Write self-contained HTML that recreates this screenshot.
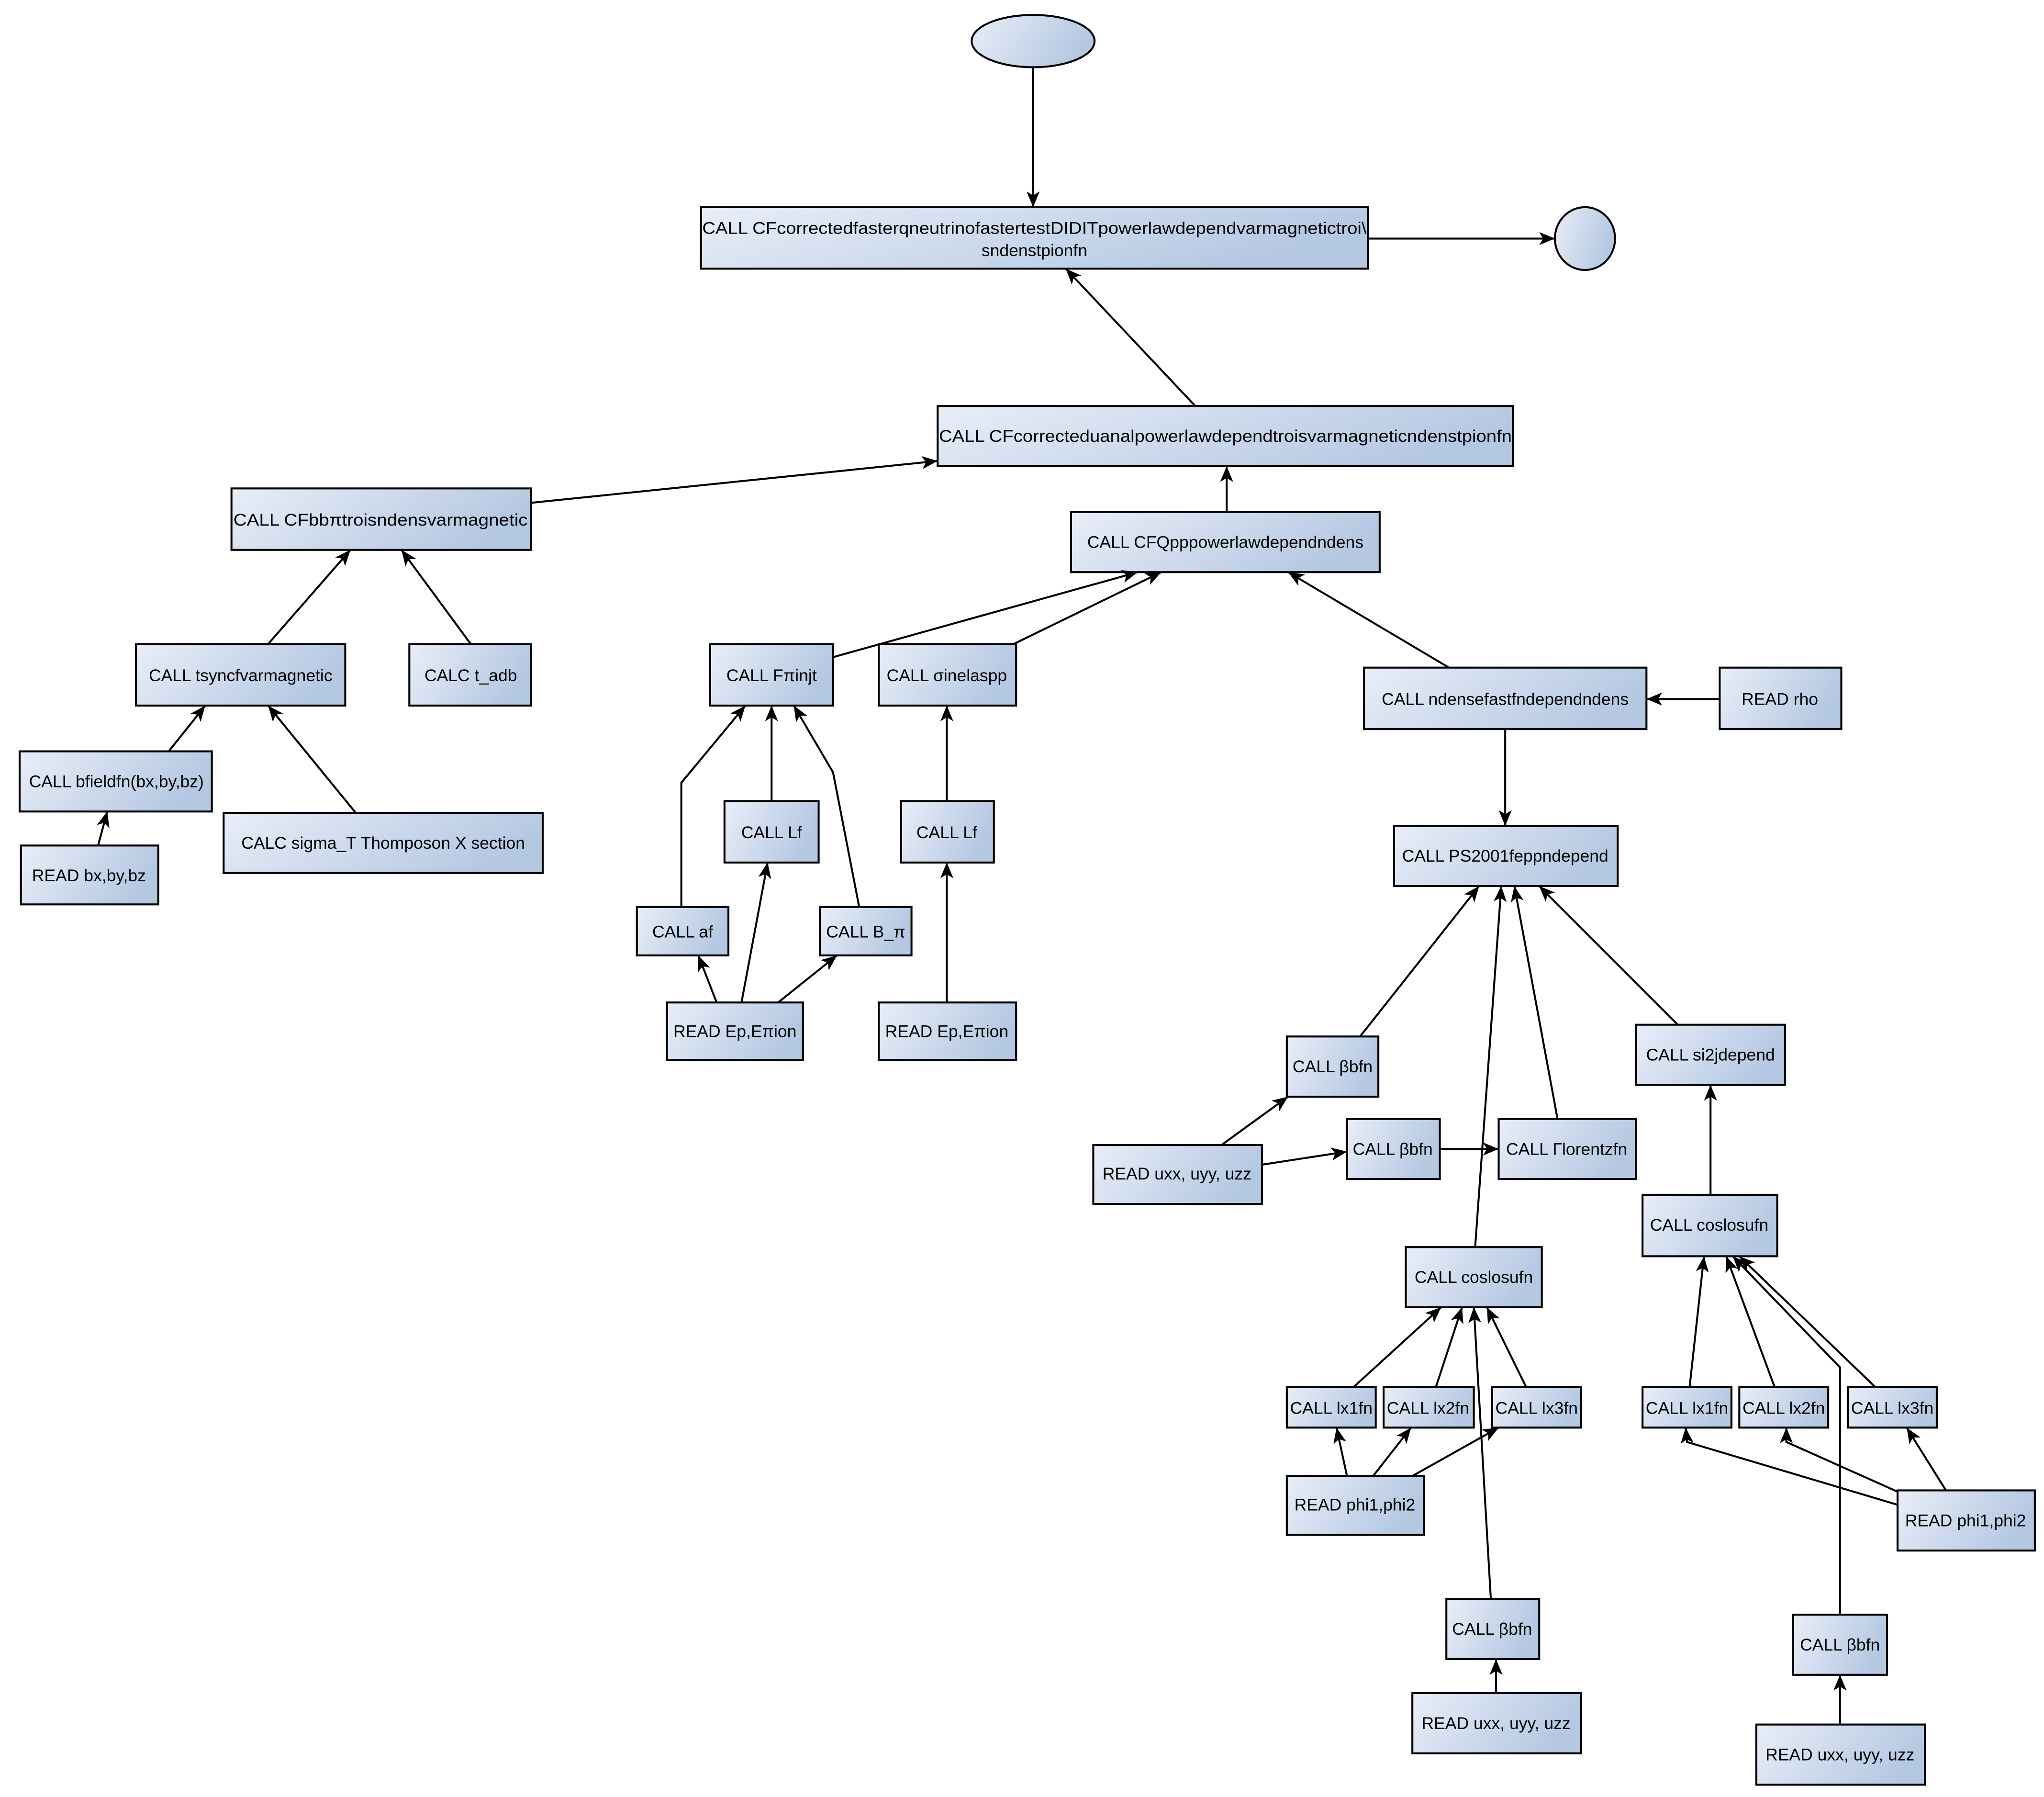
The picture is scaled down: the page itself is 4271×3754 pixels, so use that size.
<!DOCTYPE html>
<html><head><meta charset="utf-8"><style>html,body{margin:0;padding:0;background:#fff}svg{display:block}</style></head>
<body>
<svg xmlns="http://www.w3.org/2000/svg" width="4271" height="3754" viewBox="0 0 1563 1373">
<defs>
<linearGradient id="g" x1="0" y1="0" x2="1" y2="0.3"><stop offset="0" stop-color="#e9eef8"/><stop offset="1" stop-color="#b5c8e2"/></linearGradient>
<marker id="a" viewBox="0 0 12 10" refX="12" refY="5" markerWidth="12" markerHeight="10" markerUnits="userSpaceOnUse" orient="auto"><path d="M0,0 L12,5 L0,10 L3,5 Z" fill="#000"/></marker>
</defs>
<g fill="url(#g)" stroke="#000" stroke-width="1.5">
<ellipse cx="790" cy="31" rx="47" ry="20"/>
<ellipse cx="1212" cy="182" rx="23" ry="24"/>
<rect x="536" y="158" width="510" height="47"/>
<rect x="717" y="310" width="440" height="46"/>
<rect x="177" y="373" width="229" height="47"/>
<rect x="819" y="391" width="236" height="46"/>
<rect x="104" y="492" width="160" height="47"/>
<rect x="313" y="492" width="93" height="47"/>
<rect x="15" y="574" width="147" height="46"/>
<rect x="16" y="646" width="105" height="45"/>
<rect x="171" y="621" width="244" height="46"/>
<rect x="543" y="492" width="94" height="47"/>
<rect x="672" y="492" width="105" height="47"/>
<rect x="1043" y="510" width="216" height="47"/>
<rect x="1315" y="510" width="93" height="47"/>
<rect x="554" y="612" width="72" height="47"/>
<rect x="689" y="612" width="71" height="47"/>
<rect x="487" y="693" width="70" height="37"/>
<rect x="627" y="693" width="70" height="37"/>
<rect x="510" y="766" width="104" height="44"/>
<rect x="672" y="766" width="105" height="44"/>
<rect x="1066" y="631" width="171" height="46"/>
<rect x="984" y="792" width="70" height="46"/>
<rect x="1030" y="855" width="71" height="46"/>
<rect x="1146" y="855" width="105" height="46"/>
<rect x="836" y="875" width="129" height="45"/>
<rect x="1251" y="783" width="114" height="46"/>
<rect x="1075" y="953" width="104" height="46"/>
<rect x="1256" y="913" width="103" height="47"/>
<rect x="984" y="1060" width="68" height="31"/>
<rect x="1058" y="1060" width="69" height="31"/>
<rect x="1141" y="1060" width="68" height="31"/>
<rect x="984" y="1128" width="105" height="45"/>
<rect x="1106" y="1222" width="71" height="46"/>
<rect x="1080" y="1294" width="129" height="46"/>
<rect x="1256" y="1060" width="68" height="31"/>
<rect x="1330" y="1060" width="68" height="31"/>
<rect x="1413" y="1060" width="68" height="31"/>
<rect x="1451" y="1139" width="105" height="46"/>
<rect x="1371" y="1234" width="72" height="46"/>
<rect x="1343" y="1318" width="129" height="46"/>
</g>
<g fill="none" stroke="#000" stroke-width="1.5" marker-end="url(#a)">
<path d="M790 51 L790 158"/>
<path d="M1046 182 L1189 182"/>
<path d="M914 310 L815 205"/>
<path d="M406 384 L717 352"/>
<path d="M938 391 L938 356"/>
<path d="M205 492 L268 420"/>
<path d="M360 492 L307 420"/>
<path d="M129 574 L157 539"/>
<path d="M75 646 L82 620"/>
<path d="M272 621 L205 539"/>
<path d="M637 502 L870 437"/>
<path d="M775 492 L888 437"/>
<path d="M1108 510 L985 437"/>
<path d="M1315 534 L1259 534"/>
<path d="M590 612 L590 539"/>
<path d="M724 612 L724 539"/>
<path d="M521 693 L521 598 L570 539"/>
<path d="M657 693 L637 590 L607 539"/>
<path d="M548 766 L534 730"/>
<path d="M567 766 L587 659"/>
<path d="M595 766 L640 730"/>
<path d="M724 766 L724 659"/>
<path d="M1151 557 L1151 631"/>
<path d="M1040 792 L1131 677"/>
<path d="M1101 878 L1146 878"/>
<path d="M1191 855 L1158 677"/>
<path d="M934 875 L985 838"/>
<path d="M965 890 L1030 880"/>
<path d="M1283 783 L1177 677"/>
<path d="M1128 953 L1148 677"/>
<path d="M1308 913 L1308 829"/>
<path d="M1035 1060 L1102 999"/>
<path d="M1098 1060 L1118 999"/>
<path d="M1167 1060 L1137 999"/>
<path d="M1030 1128 L1022 1091"/>
<path d="M1050 1128 L1079 1091"/>
<path d="M1080 1128 L1146 1091"/>
<path d="M1140 1222 L1127 999"/>
<path d="M1144 1294 L1144 1268"/>
<path d="M1292 1060 L1303 960"/>
<path d="M1357 1060 L1320 960"/>
<path d="M1434 1060 L1330 960"/>
<path d="M1451 1150 L1290 1102 L1289 1091"/>
<path d="M1451 1140 L1366 1102 L1366 1091"/>
<path d="M1488 1139 L1458 1091"/>
<path d="M1407 1234 L1407 1045 L1325 960"/>
<path d="M1407 1318 L1407 1280"/>
</g>
<g font-family="Liberation Sans, DejaVu Sans, sans-serif" font-size="13" fill="#000" text-anchor="middle" dominant-baseline="central">
<text x="791" y="174" textLength="508" lengthAdjust="spacingAndGlyphs">CALL CFcorrectedfasterqneutrinofastertestDIDITpowerlawdependvarmagnetictroi\</text>
<text x="791" y="191">sndenstpionfn</text>
<text x="937" y="333" textLength="438" lengthAdjust="spacingAndGlyphs">CALL CFcorrecteduanalpowerlawdependtroisvarmagneticndenstpionfn</text>
<text x="291" y="397" textLength="225" lengthAdjust="spacingAndGlyphs">CALL CFbbπtroisndensvarmagnetic</text>
<text x="937" y="414">CALL CFQpppowerlawdependndens</text>
<text x="184" y="516">CALL tsyncfvarmagnetic</text>
<text x="360" y="516">CALC t_adb</text>
<text x="89" y="597">CALL bfieldfn(bx,by,bz)</text>
<text x="68" y="669">READ bx,by,bz</text>
<text x="293" y="644">CALC sigma_T Thomposon X section</text>
<text x="590" y="516">CALL Fπinjt</text>
<text x="724" y="516">CALL σinelaspp</text>
<text x="1151" y="534">CALL ndensefastfndependndens</text>
<text x="1361" y="534">READ rho</text>
<text x="590" y="636">CALL Lf</text>
<text x="724" y="636">CALL Lf</text>
<text x="522" y="712">CALL af</text>
<text x="662" y="712">CALL B_π</text>
<text x="562" y="788">READ Ep,Eπion</text>
<text x="724" y="788">READ Ep,Eπion</text>
<text x="1151" y="654">CALL PS2001feppndepend</text>
<text x="1019" y="815">CALL βbfn</text>
<text x="1065" y="878">CALL βbfn</text>
<text x="1198" y="878">CALL Γlorentzfn</text>
<text x="900" y="897">READ uxx, uyy, uzz</text>
<text x="1308" y="806">CALL si2jdepend</text>
<text x="1127" y="976">CALL coslosufn</text>
<text x="1307" y="936">CALL coslosufn</text>
<text x="1018" y="1076">CALL lx1fn</text>
<text x="1092" y="1076">CALL lx2fn</text>
<text x="1175" y="1076">CALL lx3fn</text>
<text x="1036" y="1150">READ phi1,phi2</text>
<text x="1141" y="1245">CALL βbfn</text>
<text x="1144" y="1317">READ uxx, uyy, uzz</text>
<text x="1290" y="1076">CALL lx1fn</text>
<text x="1364" y="1076">CALL lx2fn</text>
<text x="1447" y="1076">CALL lx3fn</text>
<text x="1503" y="1162">READ phi1,phi2</text>
<text x="1407" y="1257">CALL βbfn</text>
<text x="1407" y="1341">READ uxx, uyy, uzz</text>
</g>
</svg>
</body></html>
